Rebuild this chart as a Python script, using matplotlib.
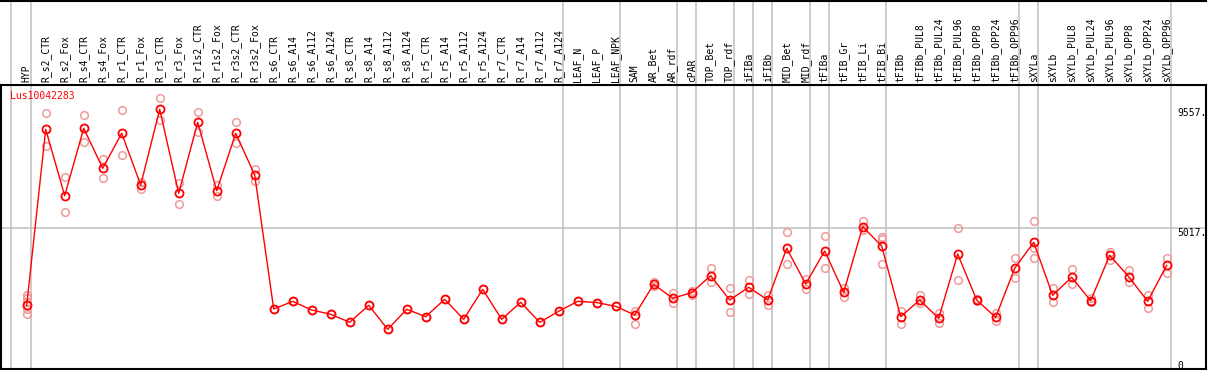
import numpy as np
import matplotlib
matplotlib.use("Agg")
import matplotlib.pyplot as plt
from matplotlib.transforms import blended_transform_factory
from matplotlib.lines import Line2D

# categories (x axis)
categories = ["HYP",
    "R_s2_CTR", "R_s2_Fox", "R_s4_CTR", "R_s4_Fox", "R_r1_CTR", "R_r1_Fox",
    "R_r3_CTR", "R_r3_Fox", "R_r1s2_CTR", "R_r1s2_Fox", "R_r3s2_CTR", "R_r3s2_Fox",
    "R_s6_CTR", "R_s6_A14", "R_s6_A112", "R_s6_A124",
    "R_s8_CTR", "R_s8_A14", "R_s8_A112", "R_s8_A124",
    "R_r5_CTR", "R_r5_A14", "R_r5_A112", "R_r5_A124",
    "R_r7_CTR", "R_r7_A14", "R_r7_A112", "R_r7_A124",
    "LEAF_N", "LEAF_P", "LEAF_NPK", "SAM", "AR_Bet", "AR_rdf", "cPAR",
    "TOP_Bet", "TOP_rdf", "iFIBa", "iFIBb", "MID_Bet", "MID_rdf", "tFIBa",
    "tFIB_Gr", "tFIB_Li", "tFIB_Bi", "tFIBb",
    "tFIBb_PUL8", "tFIBb_PUL24", "tFIBb_PUL96", "tFIBb_OPP8", "tFIBb_OPP24", "tFIBb_OPP96",
    "sXYLa", "sXYLb",
    "sXYLb_PUL8", "sXYLb_PUL24", "sXYLb_PUL96", "sXYLb_OPP8", "sXYLb_OPP24", "sXYLb_OPP96"]

# mean expression per sample
mean_vals = [2092,
    8750, 6238, 8788, 7274, 8599, 6643, 9507, 6329, 9015, 6428, 8599, 7021,
    1952, 2240, 1914, 1752, 1449, 2092, 1184, 1941, 1661, 2319, 1562, 2697,
    1562, 2205, 1449, 1865, 2243, 2195, 2054, 1725, 2886, 2357, 2569,
    3212, 2292, 2773, 2292, 4248, 2898, 4146, 2584, 5065, 4335, 1661,
    2292, 1600, 4033, 2292, 1638, 3492, 4475, 2470,
    3151, 2266, 3983, 3174, 2243, 3605]

# replicate values (faded circles)
rep_vals = [[2482, 2357, 2200, 1941, 1752],
    [9355, 8118], [6934, 5610], [9291, 8257], [7615, 6896], [9469, 7766], [6745, 6492],
    [9923, 9102], [6707, 5913], [9393, 8662], [6643, 6238], [9015, 8220], [7237, 6794],
    [1952], [2240], [1914], [1752], [1449], [2092], [1184], [1941], [1661], [2319],
    [1562], [2697], [1562], [2205], [1449], [1865], [2243], [2195], [2054],
    [1888, 1373], [2960, 2810], [2546, 2168], [2620, 2500], [3492, 2985], [2735, 1827],
    [3049, 2508], [2482, 2103], [4854, 3654], [3087, 2697], [4725, 3492], [2735, 2395],
    [5281, 4950], [4687, 4600, 3643], [1876, 1373], [2482, 2170], [1812, 1434],
    [5005, 3049], [2330, 2250], [1790, 1510], [3893, 3113], [5293, 4248, 3870],
    [2735, 2205], [3465, 2886], [2357, 2205], [4120, 3806], [3427, 2985],
    [2482, 2001], [3870, 3325]]

# group separators: drawn just after these sample indices
sep_after = [-1, 0, 28, 31, 34, 35, 37, 38, 39, 41, 42, 45, 52, 53, 60]

y_ticks = [0, 5017, 9557]
y_tick_labels = ["0", "5017.", "9557."]
gene = "Lus10042283"

W, H = 1209, 370
fig = plt.figure(figsize=(W / 100, H / 100), dpi=100)
ax = fig.add_axes([1 / W, 1 / H, 1205 / W, 284 / H])

x = np.arange(len(categories))
font = dict(family="DejaVu Sans Mono", fontsize=7)

# replicates
for i, reps in enumerate(rep_vals):
    ax.plot([i] * len(reps), reps, 'o', ms=5.5, mfc='none', mec='#ef9a9a', mew=1.1, zorder=2)

ax.plot(x, mean_vals, '-', color='red', lw=1, zorder=3)
ax.plot(x, mean_vals, 'o', ms=5.8, mfc='none', mec='red', mew=1.3, zorder=4)

ax.set_xlim(-1.353, 62.07)
ax.set_ylim(-318, 10426)
ax.set_xticks([])
ax.set_yticks([])
for s in ax.spines.values():
    s.set_linewidth(1.5)
    s.set_color('black')

# vertical separators running through the header
top_ext = 369 / 284
for k in sep_after:
    pos = k + 0.21 if k >= 0 else k + 0.16
    ax.axvline(pos, ymin=0, ymax=top_ext, color='#c4c4c4', lw=1.2, clip_on=False, zorder=1)

# horizontal grid at 5017
ax.axhline(y_ticks[1], color='#c4c4c4', lw=1.2, zorder=1)

# header labels
trans = blended_transform_factory(ax.transData, ax.transAxes)
for i, lab in enumerate(categories):
    ax.text(i, 1 + 3 / 284, lab, rotation=90, ha='center', va='bottom',
            transform=trans, clip_on=False, **font)

# right-side value labels
trans_r = blended_transform_factory(ax.transAxes, ax.transData)
for v, lab in zip(y_ticks, y_tick_labels):
    ax.text(1176 / 1205, v, lab, ha='left', va='top', transform=trans_r,
            color='black', **font)

ax.text(9 / 1205, 1 - 11 / 284, gene, color='red', ha='left', va='center',
        transform=ax.transAxes, **font)

# outer top border
fig.add_artist(Line2D([1 / W, 1206 / W], [1 - 0.8 / H, 1 - 0.8 / H], color='black', lw=1.5))

fig.savefig("out.png", dpi=100)
